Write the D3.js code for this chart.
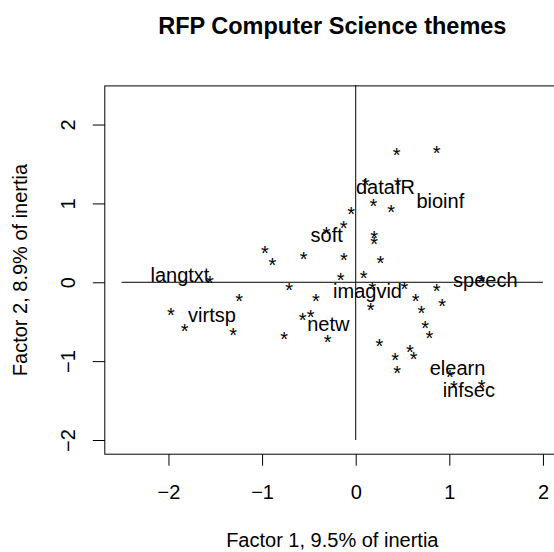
<!DOCTYPE html>
<html>
<head>
<meta charset="utf-8">
<title>RFP Computer Science themes</title>
<script src="https://cdnjs.cloudflare.com/ajax/libs/d3/7.8.5/d3.min.js"></script>
<style>
body { margin: 0; background: white; }
svg text { font-family: "Liberation Sans", Arial, sans-serif; fill: black; }
.axis path { display: none; }
.axis line { stroke: black; }
.axis text { font-size: 20px; }
</style>
</head>
<body>
<svg id="chart" width="554" height="552"></svg>
<script>
// observations (factor 1, factor 2)
var pointX = [0.438, 0.865, 0.105, 0.449, 0.188, 0.379, -0.050, -0.130, -0.312, 0.196,
              0.196, -0.969, -0.891, -0.556, -0.125, 0.263, -0.160, 0.085, -0.710, 0.179,
              0.521, 0.865, 1.342, -0.426, 0.641, 0.922, 0.160, 0.703, -0.480, -0.568,
              0.743, 0.786, -0.763, -0.299, 0.254, 0.580, 0.618, 0.420, 0.443, 1.007,
              1.048, 1.346, -1.557, -1.245, -1.973, -1.827, -1.308];
var pointY = [1.674, 1.699, 1.294, 1.297, 1.025, 0.951, 0.926, 0.748, 0.666, 0.621,
              0.549, 0.435, 0.276, 0.356, 0.344, 0.304, 0.086, 0.109, -0.038, -0.025,
              -0.025, -0.056, 0.061, -0.183, -0.183, -0.243, -0.288, -0.335, -0.380, -0.421,
              -0.519, -0.649, -0.665, -0.703, -0.751, -0.824, -0.918, -0.928, -1.093, -1.144,
              -1.277, -1.273, 0.051, -0.183, -0.355, -0.563, -0.609];

// themes
var themes = ["langtxt", "virtsp", "soft", "dataIR", "bioinf", "imagvid", "netw", "speech", "elearn", "infsec"];
var themeX = [-1.877, -1.535, -0.310, 0.318, 0.904, 0.126, -0.293, 1.385, 1.088, 1.208];
var themeY = [0.099, -0.412, 0.599, 1.207, 1.030, -0.112, -0.523, 0.036, -1.084, -1.360];

var xTicks = [-2, -1, 0, 1, 2];
var yTicks = [-2, -1, 0, 1, 2];

var svg = d3.select("#chart");
var x = d3.scaleLinear().domain([-2.68, 2.18]).range([104.8, 559.8]);
var y = d3.scaleLinear().domain([-2.18, 2.49]).range([454.2, 85.9]);
var fmt = d => d < 0 ? "\u2212" + Math.abs(d) : String(d);
var midX = (x.range()[0] + x.range()[1]) / 2;

// box
svg.append("rect")
  .attr("x", x.range()[0]).attr("y", y.range()[1])
  .attr("width", x.range()[1] - x.range()[0])
  .attr("height", y.range()[0] - y.range()[1])
  .attr("fill", "none").attr("stroke", "black");

svg.append("g")
  .attr("class", "axis")
  .attr("transform", `translate(0, ${y.range()[0]})`)
  .call(d3.axisBottom(x).tickValues(xTicks).tickSize(11.5).tickPadding(19).tickFormat(fmt));

var yAxis = svg.append("g")
  .attr("class", "axis")
  .attr("transform", `translate(${x.range()[0]}, 0)`)
  .call(d3.axisLeft(y).tickValues(yTicks).tickSize(12).tickFormat(fmt));
// R style: y tick labels run parallel to the axis
yAxis.selectAll(".tick text")
  .attr("transform", "rotate(-90)")
  .attr("x", 0).attr("y", -30).attr("dy", 0)
  .style("text-anchor", "middle");

// reference axes through the origin
svg.append("line")
  .attr("x1", x(-2.5)).attr("x2", x(2)).attr("y1", y(0)).attr("y2", y(0))
  .attr("stroke", "black");
svg.append("line")
  .attr("x1", x(0)).attr("x2", x(0)).attr("y1", y(-2)).attr("y2", y(2.5))
  .attr("stroke", "black");

// points as asterisks
svg.selectAll(".pt")
  .data(pointX.map((d, i) => [d, pointY[i]]))
  .enter().append("text")
    .attr("class", "pt")
    .attr("x", d => x(d[0]))
    .attr("y", d => y(d[1]))
    .attr("dy", "0.58em")
    .style("font-size", "20px")
    .style("text-anchor", "middle")
    .text("*");

svg.selectAll(".theme")
  .data(themes)
  .enter().append("text")
    .attr("class", "theme")
    .attr("x", (d, i) => x(themeX[i]))
    .attr("y", (d, i) => y(themeY[i]))
    .attr("dy", "0.36em")
    .style("font-size", "20px")
    .style("text-anchor", "middle")
    .text(d => d);

// titles
svg.append("text")
  .attr("x", midX).attr("y", 33.6)
  .style("font-size", "23.5px").style("font-weight", "bold")
  .style("text-anchor", "middle")
  .text("RFP Computer Science themes");

svg.append("text")
  .attr("x", midX).attr("y", 547)
  .style("font-size", "20px").style("text-anchor", "middle")
  .text("Factor 1, 9.5% of inertia");

svg.append("text")
  .attr("transform", `translate(27, ${(y.range()[0] + y.range()[1]) / 2}) rotate(-90)`)
  .style("font-size", "20px").style("text-anchor", "middle")
  .text("Factor 2, 8.9% of inertia");
</script>
</body>
</html>
